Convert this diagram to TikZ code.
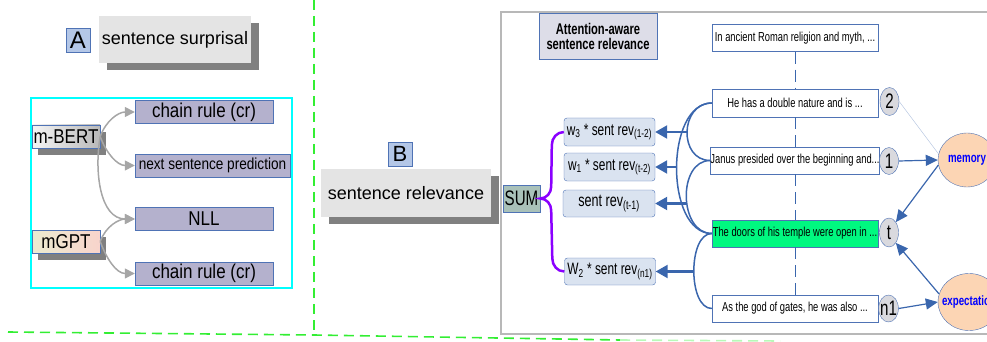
\documentclass[tikz,border=0pt]{standalone}
\usepackage{fontspec}
\setmainfont{Liberation Sans}
\newfontfamily\narrowfont[FakeStretch=0.85]{Liberation Sans}
\newfontfamily\condfont[FakeStretch=0.72]{Liberation Sans}
\usetikzlibrary{arrows.meta,shapes,calc,shadows}
\definecolor{boxblue}{HTML}{4F73B5}
\definecolor{letterblue}{HTML}{B4C7E7}
\definecolor{titlegray}{HTML}{E4E4E4}
\definecolor{shadowgray}{HTML}{808080}
\definecolor{methodpurple}{HTML}{B4B1CD}
\definecolor{arrowgray}{HTML}{A6A6A6}
\definecolor{revblue}{HTML}{DAE3F0}
\definecolor{sumgreen}{HTML}{A9C1B9}
\definecolor{attngray}{HTML}{DDDDE8}
\definecolor{focusgreen}{HTML}{00F880}
\definecolor{posgray}{HTML}{D9D9DE}
\definecolor{peach}{HTML}{FCD5B4}
\definecolor{linkblue}{HTML}{3A66AD}
\definecolor{bracepurple}{HTML}{8A00FF}
\definecolor{panelgreen}{HTML}{33EE33}
\definecolor{framegray}{HTML}{B8B8B8}
\definecolor{framecyan}{HTML}{00FFFF}
\definecolor{gptleft}{HTML}{ECEBD0}
\definecolor{gptright}{HTML}{F8D4CC}

\tikzset{
  letterbox/.style={draw=boxblue, fill=letterblue, minimum width=24pt, minimum height=24pt,
    inner sep=0pt, font=\fontsize{24}{24}\selectfont},
  titlebox/.style={fill=titlegray, minimum height=47pt, inner sep=0pt,
    drop shadow={shadow xshift=8pt, shadow yshift=-7pt, fill=shadowgray, opacity=1},
    font=\fontsize{18}{18}\selectfont},
  modelbox/.style={draw=boxblue, minimum width=68pt, minimum height=23pt, inner sep=0pt,
    drop shadow={shadow xshift=6pt, shadow yshift=-7pt, fill=shadowgray, opacity=1},
    font=\narrowfont\fontsize{20}{20}\selectfont},
  methodbox/.style={draw=boxblue, fill=methodpurple, minimum width=138pt, minimum height=23pt,
    inner sep=0pt, font=\narrowfont\fontsize{20}{20}\selectfont},
  grayarrow/.style={draw=arrowgray, line width=1.5pt, -{Triangle[length=10pt,width=10pt]}},
  revbox/.style={draw=boxblue, fill=revblue, rounded corners=3pt, minimum width=91pt,
    minimum height=28pt, inner sep=0pt, font=\condfont\fontsize{16.5}{16}\selectfont},
  sentbox/.style={draw=boxblue, fill=white, minimum width=166pt, minimum height=27pt,
    inner sep=0pt, font=\condfont\fontsize{13}{13}\selectfont},
  posnode/.style={ellipse, draw=boxblue, fill=posgray, minimum width=19pt, minimum height=28pt,
    inner sep=0pt, font=\condfont\fontsize{21}{21}\selectfont},
  stateell/.style={ellipse, draw=boxblue, fill=peach, inner sep=0pt, text=blue,
    font=\condfont\bfseries\fontsize{13.5}{14}\selectfont},
  link/.style={draw=linkblue, line width=1.5pt},
  revarrow/.style={draw=linkblue, line width=2.2pt, -{Triangle[length=12pt,width=13pt]}},
  flow/.style={draw=linkblue, line width=1.2pt, -{Triangle[length=12pt,width=11pt]}},
  timeline/.style={draw=linkblue, line width=1pt, dash pattern=on 12pt off 6pt},
  panelline/.style={draw=panelgreen, line width=1.6pt, dash pattern=on 10pt off 6pt},
}

\begin{document}
\begin{tikzpicture}[x=1pt,y=-1pt]
  \path[use as bounding box,clip] (0,0) rectangle (987,342);
  % panel borders
  \draw[panelline] (314,0) -- (314,335);
  \draw[panelline] (8,332) -- (314,335) -- (620,340);
  \draw[panelline,draw=panelgreen!35] (620,340) -- (780,341);

  % A: sentence surprisal
  \node[letterbox] (lblA) at (78,40) {A};
  \node[titlebox,minimum width=152pt] (surprisal) at (175,39.5) {sentence surprisal};
  \draw[framecyan,line width=1.6pt] (31,98) rectangle (292,288);
  \node[modelbox,left color=gray!8,right color=gray!55] (bert) at (66,136.5) {m-BERT};
  \node[modelbox,left color=gptleft,right color=gptright] (mgpt) at (66,241.5) {mGPT};
  \node[methodbox] (cr1) at (204,112) {chain rule (cr)};
  \node[methodbox,minimum width=155pt,font=\narrowfont\fontsize{16}{16}\selectfont] (nsp) at (212.5,165.5) {next sentence prediction};
  \node[methodbox] (nll) at (204,219) {NLL};
  \node[methodbox] (cr2) at (204,273.5) {chain rule (cr)};
  \draw[grayarrow] (bert.east) to[out=70,in=180] (cr1.west);
  \draw[grayarrow] (bert.east) to[out=-70,in=180] (nsp.west);
  \draw[grayarrow] (bert.east) to[out=-100,in=180] (nll.west);
  \draw[grayarrow] (mgpt.east) to[out=70,in=180] (nll.west);
  \draw[grayarrow] (mgpt.east) to[out=-70,in=180] (cr2.west);

  % B: sentence relevance
  \node[letterbox,font=\fontsize{22}{22}\selectfont] (lblB) at (400,154) {B};
  \node[titlebox,minimum width=170pt,minimum height=48pt] (relevance) at (406,193) {sentence relevance};
  \draw[framegray,line width=1.5pt] (501,12) rectangle (1000,334);
  \node[draw=boxblue,fill=attngray,minimum width=118pt,minimum height=46pt,inner sep=0pt,align=center,
    font=\condfont\bfseries\fontsize{15.5}{15}\selectfont] (attn) at (598,36) {Attention-aware\\sentence relevance};
  \node[draw=boxblue,fill=sumgreen,minimum width=37pt,minimum height=27pt,inner sep=0pt,
    font=\condfont\fontsize{21}{21}\selectfont] (sum) at (521.5,198.5) {SUM};
  \node[revbox] (w3) at (609.5,132) {w\textsubscript{3} * sent rev\textsubscript{(1-2)}};
  \node[revbox] (w1) at (609.5,167) {w\textsubscript{1} * sent rev\textsubscript{(t-2)}};
  \node[revbox,minimum width=92pt,minimum height=27pt,font=\condfont\fontsize{17.5}{17}\selectfont] (srev) at (609,203.5) {sent rev\textsubscript{(t-1)}};
  \node[revbox,minimum height=27pt] (w2) at (610,271.5) {W\textsubscript{2} * sent rev\textsubscript{(n1)}};
  \draw[bracepurple,line width=2.5pt] (w3.west) to[out=180,in=90] ($(w3.west)+(-12,13)$)
    -- ($(sum.east)+(11,-12)$) to[out=-90,in=0] (sum.east)
    to[out=0,in=90] ($(sum.east)+(11,12)$) -- ($(w2.west)+(-12,-13)$) to[out=-90,in=180] (w2.west);

  % sentences of the text
  \node[sentbox] (ancient) at (795,38) {In ancient Roman religion and myth, ...};
  \node[sentbox,minimum height=28pt] (hehas) at (795,103) {He has a double nature and is ...};
  \node[sentbox] (janus) at (795,160.5) {Janus presided over the beginning and...};
  \node[sentbox,fill=focusgreen] (doors) at (795,233.5) {The doors of his temple were open in ...};
  \node[sentbox] (god) at (795,308.5) {As the god of gates, he was also ...};
  \draw[timeline] (ancient) -- (hehas);
  \draw[timeline] (hehas) -- (janus);
  \draw[timeline] (janus) -- (doors);
  \draw[timeline] (doors) -- (god);

  \draw[link] (hehas.west) .. controls +(-32,0) and +(-32,0) .. (janus.west) coordinate[pos=0.5] (c1);
  \draw[link] (hehas.west) .. controls +(-47,0) and +(-47,0) .. (doors.west) coordinate[pos=0.5] (c2);
  \draw[link] (janus.west) .. controls +(-33,0) and +(-33,0) .. (doors.west) coordinate[pos=0.5] (c3);
  \draw[link] (doors.west) .. controls +(-24,0) and +(-24,0) .. (god.west) coordinate[pos=0.5] (c4);
  \draw[revarrow] (w3.east -| c1) -- (w3.east);
  \draw[revarrow] (w1.east -| c2) -- (w1.east);
  \draw[revarrow] (srev.east -| c3) -- (srev.east);
  \draw[revarrow] (w2.east -| c4) -- (w2.east);

  % positions, memory and expectation
  \node[posnode] (two) at (889.5,101.5) {2};
  \node[posnode,minimum height=27pt] (one) at (889,161) {1};
  \node[posnode,minimum height=29pt] (tnow) at (889,232.5) {t};
  \node[posnode,minimum height=27pt] (none) at (888.5,308.5) {\makebox[14pt]{n1}};
  \node[stateell,minimum width=58pt,minimum height=54pt] (memory) at (967,160) {\makebox[30pt]{memory}};
  \node[stateell,minimum width=62pt,minimum height=57pt] (expect) at (969,302) {\makebox[30pt]{expectation}};
  \draw[draw=linkblue!35,line width=0.5pt] (two.east) -- (memory.168);
  \draw[flow] (one.east) -- (memory.west);
  \draw[flow] (memory.190) -- (tnow.north east);
  \draw[flow] (expect.165) -- (tnow.south east);
  \draw[flow] (none.east) -- (expect.west);
\end{tikzpicture}
\end{document}
